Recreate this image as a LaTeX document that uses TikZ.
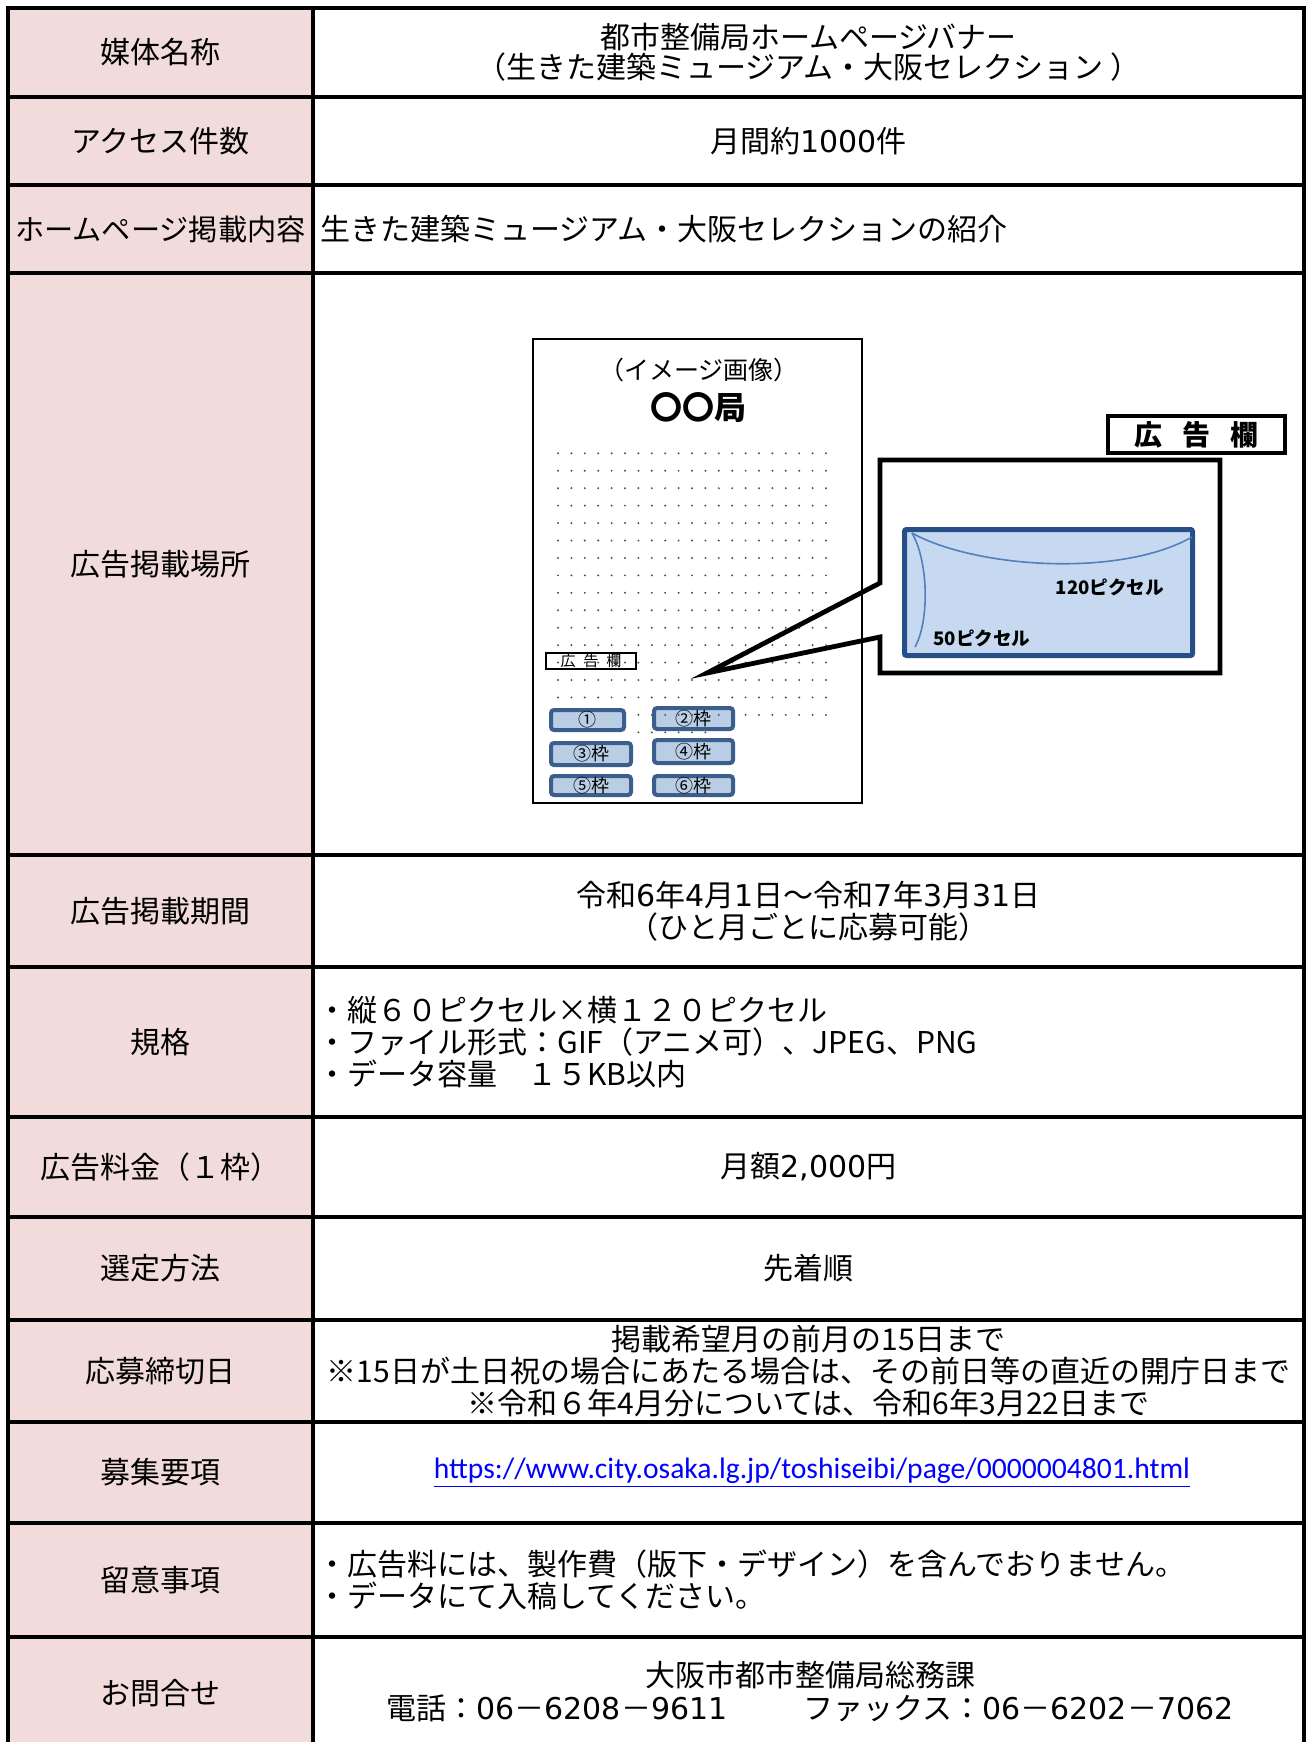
\documentclass[tikz,border=0pt]{standalone}
\usepackage{fontspec}
\setmainfont{Noto Sans CJK JP}
\newfontfamily\urlfont{Carlito}
\newfontfamily\digfont{DejaVu Sans}
\newcommand{\dgt}[1]{{\digfont #1}}
\definecolor{labpink}{HTML}{F2DCDB}
\definecolor{framefill}{HTML}{B9CDE5}
\definecolor{framedraw}{HTML}{3B5E8C}
\definecolor{adfill}{HTML}{C6D9F1}
\definecolor{addraw}{HTML}{254F86}
\definecolor{curvec}{HTML}{4F81BD}
\definecolor{urlblue}{HTML}{0000FF}
\definecolor{dotc}{HTML}{505050}
\begin{document}
\begin{tikzpicture}[x=0.5pt,y=-0.5pt,
  gridline/.style={line width=1.75pt, line cap=rect},
  lab/.style={inner sep=0pt, font=\fontsize{15pt}{16pt}\selectfont},
  txt/.style={inner sep=0pt, align=center, font=\fontsize{15pt}{16pt}\selectfont},
  ltxt/.style={inner sep=0pt, anchor=west, align=left, font=\fontsize{15pt}{16pt}\selectfont},
  frame/.style={draw=framedraw, fill=framefill, line width=2pt, rounded corners=1.5pt, inner sep=0pt, font=\fontsize{9pt}{10pt}\selectfont},
  callout/.style={line width=2.4pt, line join=miter},
  pxlab/.style={inner sep=0pt, font=\bfseries\fontsize{9.3pt}{10pt}\selectfont},
  curveline/.style={draw=curvec, line width=0.8pt}
]
\useasboundingbox (0,0) rectangle (1306,1742);
\clip (0,0) rectangle (1306,1742);
% table
\fill[labpink] (8,8) rectangle (313,1750);
\draw[gridline] (8,1760) -- (8,8) -- (1304,8) -- (1304,1760);
\draw[gridline] (313,8) -- (313,1760);
\foreach \y in {97,185,273,855,967,1117,1217,1320,1422,1523,1637}
  \draw[gridline] (8,\y) -- (1304,\y);
% labels
\node[lab] (l1) at (160.5,52.5) {媒体名称};
\node[lab] (l2) at (160.5,141) {アクセス件数};
\node[lab, font=\fontsize{14.6pt}{15pt}\selectfont] (l3) at (160.5,229) {ホームページ掲載内容};
\node[lab] (l4) at (160.5,564) {広告掲載場所};
\node[lab] (l5) at (160.5,911) {広告掲載期間};
\node[lab] (l6) at (160.5,1042) {規格};
\node[lab] (l7) at (160.5,1167) {広告料金（１枠）};
\node[lab] (l8) at (160.5,1268.5) {選定方法};
\node[lab] (l9) at (160.5,1371) {応募締切日};
\node[lab] (l10) at (160.5,1472.5) {募集要項};
\node[lab] (l11) at (160.5,1580) {留意事項};
\node[lab] (l12) at (160.5,1693) {お問合せ};
% contents
\node[txt, font=\fontsize{15pt}{15pt}\selectfont] (c1) at (808.5,52.5) {都市整備局ホームページバナー\\（生きた建築ミュージアム・大阪セレクション ）};
\node[txt] (c2) at (808.5,141) {月間約\dgt{1000}件};
\node[ltxt] (c3) at (320,229) {生きた建築ミュージアム・大阪セレクションの紹介};
\node[txt] (c5) at (808.5,911) {令和\dgt{6}年\dgt{4}月\dgt{1}日～令和\dgt{7}年\dgt{3}月\dgt{31}日\\（ひと月ごとに応募可能）};
\node[ltxt] (c6) at (317,1042) {・縦６０ピクセル×横１２０ピクセル\\・ファイル形式：GIF（アニメ可）、JPEG、PNG\\・データ容量　１５KB以内};
\node[txt] (c7) at (808.5,1167) {月額\dgt{2,000}円};
\node[txt] (c8) at (808.5,1268.5) {先着順};
\node[txt] (c9) at (808.5,1371) {掲載希望月の前月の15日まで\\※15日が土日祝の場合にあたる場合は、その前日等の直近の開庁日まで\\※令和６年4月分については、令和6年3月22日まで};
\node[inner sep=0pt, text=urlblue, font=\urlfont\fontsize{14.8pt}{15pt}\selectfont] (c10) at (812,1472.5) {\underline{https://www.city.osaka.lg.jp/toshiseibi/page/0000004801.html}};
\node[ltxt] (c11) at (317,1580) {・広告料には、製作費（版下・デザイン）を含んでおりません。\\・データにて入稿してください。};
\node[txt, font=\fontsize{15pt}{16.5pt}\selectfont] (c12) at (810,1692) {大阪市都市整備局総務課\\電話：\dgt{06}－\dgt{6208}－\dgt{9611}　　\hspace{8pt}ファックス：\dgt{06}－\dgt{6202}－\dgt{7062}};
% image: page mock-up
\draw[line width=1.25pt] (533,339) rectangle (862,803);
\node[inner sep=0pt, font=\fontsize{12.5pt}{13pt}\selectfont] (imgcap) at (699,370) {（イメージ画像）};
\node[inner sep=0pt, font=\bfseries\fontsize{16pt}{17pt}\selectfont] (kyoku) at (698,408) {〇〇局};
\node[draw, line width=1pt, minimum width=45pt, minimum height=8pt, inner sep=0pt, font=\fontsize{7.5pt}{8pt}\selectfont] (smallad) at (591,661) {広\hspace{4pt}告\hspace{4pt}欄};
\node[frame, minimum width=36.5pt, minimum height=10pt] (f1) at (587.5,720) {①};
\node[frame, minimum width=39.5pt, minimum height=10.5pt] (f2) at (693.5,718.5) {②枠};
\node[frame, minimum width=40pt, minimum height=11pt] (f3) at (591,754) {③枠};
\node[frame, minimum width=39.5pt, minimum height=11.5pt] (f4) at (693.5,751.5) {④枠};
\node[frame, minimum width=40pt, minimum height=9.5pt] (f5) at (591,785.5) {⑤枠};
\node[frame, minimum width=39.5pt, minimum height=9.5pt] (f6) at (693.5,785.5) {⑥枠};
% dots
\foreach \k in {0,...,14}
  \foreach \i in {0,...,20}
    \fill[dotc] ({558+13.4*\i},{453.3+17.44*\k}) circle[radius=0.55pt];
\foreach \i in {6,...,20}
  \fill[dotc] ({558+13.4*\i},{453.3+17.44*15}) circle[radius=0.55pt];
\foreach \i in {6,...,11}
  \fill[dotc] ({558+13.4*\i},{453.3+17.44*16}) circle[radius=0.55pt];
% callout
\coordinate (tip) at (707,673);
\coordinate (cu) at (880,583);
\coordinate (cl) at (880,637);
\draw[callout] (cu) -- (880,460) -- (1220,460) -- (1220,673) -- (880,673) -- (cl) -- (tip) -- cycle;
\draw[draw=addraw, fill=adfill, line width=2.5pt, rounded corners=1pt] (904.5,529.5) rectangle (1192.5,655.5);
\draw[curveline] (912,533) .. controls (975,568) and (1120,578) .. (1192,537);
\draw[curveline] (912,533) .. controls (928,560) and (930,620) .. (915,647);
\node[pxlab] (px120) at (1110,587) {120ピクセル};
\node[pxlab] (px50) at (982,638) {50ピクセル};
\node[draw, fill=white, line width=2pt, minimum width=88.5pt, minimum height=18.5pt, inner sep=0pt, font=\bfseries\fontsize{14pt}{15pt}\selectfont] (adlabel) at (1196.5,434.5) {広\hspace{10pt}告\hspace{10pt}欄};
\end{tikzpicture}
\end{document}
